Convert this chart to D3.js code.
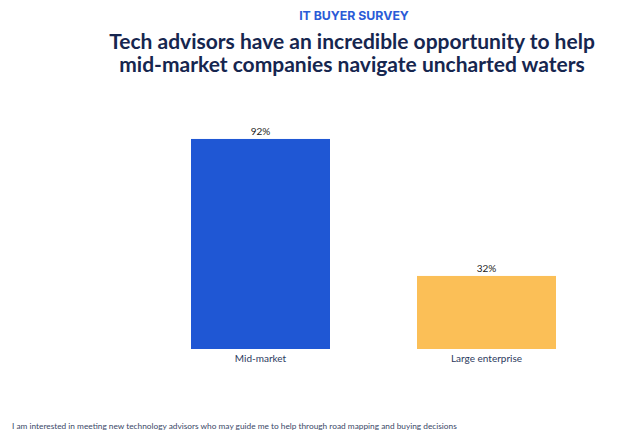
<!DOCTYPE html>
<html>
<head>
<meta charset="utf-8">
<script src="https://cdn.jsdelivr.net/npm/d3@7"></script>
<style>
  html, body { margin: 0; padding: 0; background: #fff; }
  svg { display: block; font-family: "Lato", "Inter", sans-serif; }
</style>
</head>
<body>
<svg id="chart" width="639" height="433"></svg>
<script>
// Survey results
const categories = ["Mid-market", "Large enterprise"];
const values = [92, 32];
const barColors = ["#1f57d4", "#fbbf57"];

const kicker = "IT BUYER SURVEY";
const titleLines = [
  "Tech advisors have an incredible opportunity to help",
  "mid-market companies navigate uncharted waters"
];
const footnote = "I am interested in meeting new technology advisors who may guide me to help through road mapping and buying decisions";

const svg = d3.select("#chart");

const x = d3.scaleBand()
  .domain(categories)
  .range([147.5, 599.5])
  .paddingInner(0.385)
  .paddingOuter(0.1925);

const y = d3.scaleLinear()
  .domain([0, 100])
  .range([349, 120.7]);

// Header
svg.append("text")
  .attr("x", 354).attr("y", 20)
  .attr("text-anchor", "middle")
  .attr("fill", "#2a5bd7")
  .attr("font-family", "Inter, sans-serif")
  .attr("font-weight", 700)
  .attr("font-size", 12.3)
  .text(kicker);

svg.append("g").selectAll("text")
  .data(titleLines)
  .join("text")
  .attr("x", 352)
  .attr("y", (d, i) => 49 + i * 23)
  .attr("text-anchor", "middle")
  .attr("fill", "#16264f")
  .attr("font-family", "Lato, sans-serif")
  .attr("font-weight", 700)
  .attr("font-size", 21)
  .text(d => d);

// Bars
svg.append("g").selectAll("rect")
  .data(categories)
  .join("rect")
  .attr("x", d => x(d))
  .attr("width", x.bandwidth())
  .attr("y", (d, i) => y(values[i]))
  .attr("height", (d, i) => y(0) - y(values[i]))
  .attr("fill", (d, i) => barColors[i]);

// Value labels
svg.append("g").selectAll("text")
  .data(categories)
  .join("text")
  .attr("x", d => x(d) + x.bandwidth() / 2)
  .attr("y", (d, i) => y(values[i]) - 4)
  .attr("text-anchor", "middle")
  .attr("fill", "#222")
  .attr("font-size", 10)
  .text((d, i) => values[i] + "%");

// Category axis labels
const axis = d3.axisBottom(x).tickSize(0).tickPadding(6);
const gx = svg.append("g")
  .attr("transform", `translate(0,${y(0)})`)
  .call(axis);
gx.select(".domain").remove();
gx.selectAll("text")
  .attr("fill", "#2b3a5e")
  .attr("font-size", 10)
  .attr("font-family", "Lato, sans-serif");

// Footnote
svg.append("text")
  .attr("x", 12).attr("y", 429)
  .attr("fill", "#3a4868")
  .attr("font-size", 8.3)
  .text(footnote);
</script>
</body>
</html>
